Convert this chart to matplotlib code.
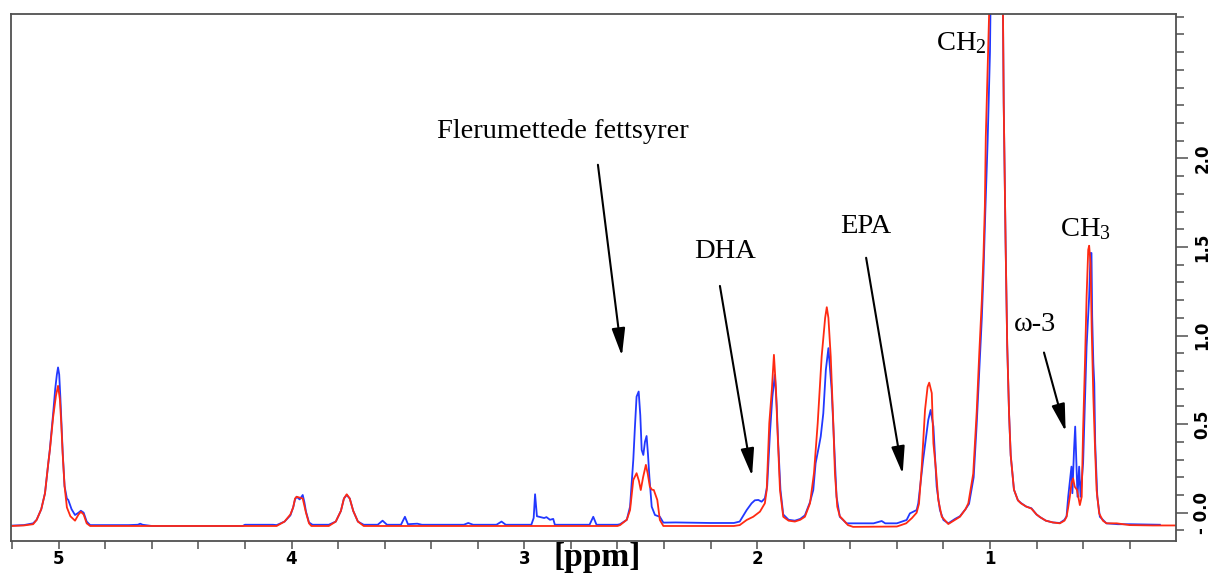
import matplotlib
matplotlib.use("Agg")
import matplotlib.pyplot as plt
from matplotlib.ticker import FixedLocator, MultipleLocator

plt.rcParams['mathtext.fontset'] = 'custom'
plt.rcParams['mathtext.rm'] = 'Liberation Serif'
plt.rcParams['mathtext.it'] = 'Liberation Serif:italic'

# spectrum: chemical shift (ppm) and intensity
blue_ppm = [5.205, 5.15, 5.11, 5.095, 5.075, 5.059, 5.045, 5.038, 5.024, 5.015,
            5.008, 5.003, 4.998, 4.993, 4.989, 4.983, 4.975, 4.965, 4.959, 4.945,
            4.930, 4.915, 4.905, 4.893, 4.880, 4.865, 4.70, 4.66, 4.65, 4.64,
            4.60, 4.21, 4.20, 4.08, 4.064, 4.03, 4.005, 3.993, 3.985, 3.978,
            3.965, 3.952, 3.945, 3.938, 3.925, 3.91, 3.84, 3.81, 3.788, 3.775,
            3.763, 3.750, 3.735, 3.715, 3.69, 3.63, 3.609, 3.59, 3.53, 3.513,
            3.50, 3.46, 3.44, 3.26, 3.241, 3.22, 3.12, 3.098, 3.08, 2.97,
            2.96, 2.954, 2.946, 2.93, 2.915, 2.905, 2.89, 2.876, 2.869, 2.72,
            2.704, 2.69, 2.60, 2.589, 2.56, 2.546, 2.532, 2.525, 2.518, 2.509,
            2.502, 2.496, 2.489, 2.482, 2.475, 2.469, 2.463, 2.453, 2.439, 2.418,
            2.403, 2.35, 2.20, 2.10, 2.075, 2.045, 2.024, 2.010, 1.995, 1.981,
            1.967, 1.957, 1.945, 1.935, 1.924, 1.916, 1.910, 1.900, 1.888, 1.865,
            1.838, 1.815, 1.795, 1.773, 1.759, 1.749, 1.735, 1.727, 1.716, 1.705,
            1.694, 1.680, 1.670, 1.659, 1.645, 1.616, 1.50, 1.465, 1.45, 1.40,
            1.358, 1.344, 1.315, 1.308, 1.287, 1.265, 1.255, 1.243, 1.229, 1.215,
            1.200, 1.179, 1.150, 1.129, 1.105, 1.090, 1.070, 1.057, 1.046, 1.035,
            1.028, 1.020, 1.010, 1.000, 0.992, 0.950, 0.944, 0.941, 0.933, 0.926,
            0.918, 0.911, 0.897, 0.880, 0.867, 0.845, 0.822, 0.800, 0.785, 0.760,
            0.730, 0.700, 0.680, 0.671, 0.664, 0.650, 0.646, 0.639, 0.634, 0.628,
            0.624, 0.617, 0.611, 0.600, 0.585, 0.574, 0.568, 0.564, 0.561, 0.556,
            0.552, 0.548, 0.539, 0.528, 0.50, 0.45, 0.40, 0.27]
blue_int = [-0.073, -0.07, -0.06, -0.04, 0.02, 0.11, 0.28, 0.36, 0.56, 0.70,
            0.78, 0.82, 0.78, 0.65, 0.52, 0.34, 0.15, 0.08, 0.072, 0.02,
            -0.013, 0.0, 0.011, 0.0, -0.05, -0.07, -0.07, -0.068, -0.062, -0.068,
            -0.075, -0.075, -0.068, -0.068, -0.07, -0.05, -0.015, 0.03, 0.075, 0.09,
            0.075, 0.10, 0.06, 0.006, -0.055, -0.068, -0.068, -0.05, 0.01, 0.08,
            0.10, 0.08, 0.01, -0.05, -0.068, -0.068, -0.045, -0.068, -0.068, -0.023,
            -0.065, -0.062, -0.068, -0.068, -0.058, -0.068, -0.068, -0.05, -0.068, -0.068,
            -0.03, 0.104, -0.02, -0.025, -0.03, -0.025, -0.04, -0.035, -0.068, -0.068,
            -0.023, -0.068, -0.068, -0.065, -0.04, 0.034, 0.30, 0.486, 0.655, 0.684,
            0.55, 0.354, 0.326, 0.40, 0.433, 0.33, 0.203, 0.034, -0.013, -0.023,
            -0.056, -0.055, -0.058, -0.058, -0.05, 0.015, 0.053, 0.07, 0.072, 0.062,
            0.081, 0.15, 0.45, 0.65, 0.778, 0.60, 0.40, 0.13, -0.01, -0.04,
            -0.045, -0.035, -0.015, 0.06, 0.128, 0.279, 0.373, 0.43, 0.56, 0.806,
            0.929, 0.693, 0.41, 0.09, -0.023, -0.06, -0.06, -0.047, -0.06, -0.06,
            -0.041, -0.004, 0.015, 0.053, 0.30, 0.524, 0.58, 0.486, 0.147, 0.015,
            -0.041, -0.06, -0.035, -0.02, 0.02, 0.05, 0.20, 0.50, 0.80, 1.10,
            1.35, 1.70, 2.10, 2.60, 3.5, 3.5, 2.8, 2.31, 1.53, 0.949,
            0.559, 0.325, 0.13, 0.07, 0.055, 0.035, 0.025, -0.01, -0.025, -0.045,
            -0.055, -0.058, -0.04, -0.02, 0.09, 0.26, 0.11, 0.354, 0.486, 0.241,
            0.09, 0.26, 0.09, 0.279, 0.938, 1.22, 1.466, 1.466, 1.107, 0.844,
            0.731, 0.392, 0.09, -0.023, -0.06, -0.065, -0.065, -0.068]

red_ppm = [5.205, 5.15, 5.11, 5.095, 5.075, 5.059, 5.045, 5.038, 5.024, 5.012,
           5.003, 4.995, 4.989, 4.983, 4.975, 4.965, 4.950, 4.930, 4.915, 4.905,
           4.893, 4.880, 4.865, 4.064, 4.03, 4.005, 3.993, 3.985, 3.978, 3.965,
           3.952, 3.945, 3.938, 3.925, 3.915, 3.84, 3.81, 3.788, 3.775, 3.763,
           3.750, 3.735, 3.715, 3.69, 2.60, 2.589, 2.56, 2.546, 2.532, 2.518,
           2.508, 2.500, 2.490, 2.478, 2.470, 2.461, 2.452, 2.444, 2.429, 2.418,
           2.403, 2.10, 2.075, 2.045, 2.017, 1.988, 1.967, 1.959, 1.948, 1.937,
           1.928, 1.919, 1.914, 1.902, 1.888, 1.865, 1.838, 1.815, 1.795, 1.773,
           1.756, 1.740, 1.723, 1.708, 1.701, 1.694, 1.684, 1.673, 1.666, 1.656,
           1.645, 1.630, 1.610, 1.588, 1.40, 1.36, 1.335, 1.315, 1.305, 1.293,
           1.279, 1.268, 1.261, 1.250, 1.243, 1.232, 1.222, 1.207, 1.179, 1.150,
           1.129, 1.105, 1.093, 1.072, 1.057, 1.046, 1.035, 1.028, 1.022, 1.018,
           1.010, 1.004, 0.997, 0.950, 0.944, 0.941, 0.933, 0.926, 0.918, 0.911,
           0.897, 0.880, 0.867, 0.845, 0.822, 0.800, 0.785, 0.760, 0.730, 0.700,
           0.680, 0.671, 0.664, 0.657, 0.650, 0.643, 0.636, 0.626, 0.614, 0.606,
           0.600, 0.592, 0.585, 0.578, 0.574, 0.568, 0.563, 0.556, 0.549, 0.542,
           0.531, 0.515, 0.499, 0.456, 0.40, 0.30, 0.202]
red_int = [-0.075, -0.072, -0.065, -0.041, 0.02, 0.11, 0.28, 0.354, 0.54, 0.66,
           0.716, 0.64, 0.50, 0.33, 0.15, 0.03, -0.02, -0.045, -0.01, 0.005,
           -0.01, -0.06, -0.075, -0.075, -0.05, -0.01, 0.03, 0.08, 0.09, 0.085,
           0.08, 0.04, 0.0, -0.06, -0.075, -0.075, -0.05, 0.01, 0.08, 0.104,
           0.08, 0.01, -0.05, -0.075, -0.075, -0.07, -0.04, 0.015, 0.185, 0.223,
           0.18, 0.128, 0.20, 0.27, 0.22, 0.147, 0.13, 0.128, 0.072, -0.041,
           -0.075, -0.075, -0.07, -0.041, -0.023, 0.006, 0.053, 0.128, 0.505, 0.693,
           0.891, 0.693, 0.505, 0.128, -0.023, -0.045, -0.05, -0.04, -0.023, 0.053,
           0.223, 0.505, 0.881, 1.10, 1.16, 1.10, 0.881, 0.505, 0.223, 0.034,
           -0.02, -0.041, -0.07, -0.08, -0.078, -0.06, -0.03, 0.0, 0.05, 0.26,
           0.58, 0.71, 0.734, 0.675, 0.392, 0.241, 0.072, -0.023, -0.064, -0.04,
           -0.023, 0.02, 0.053, 0.22, 0.57, 0.90, 1.20, 1.45, 1.73, 2.12,
           2.50, 2.80, 3.5, 3.5, 2.8, 2.31, 1.53, 0.949, 0.559, 0.325,
           0.13, 0.07, 0.053, 0.035, 0.023, -0.01, -0.025, -0.045, -0.055, -0.06,
           -0.045, -0.023, 0.03, 0.09, 0.166, 0.194, 0.147, 0.128, 0.043, 0.09,
           0.467, 0.844, 1.22, 1.484, 1.507, 1.409, 1.032, 0.655, 0.373, 0.128,
           -0.004, -0.045, -0.06, -0.06, -0.07, -0.072, -0.072]

# labels: text, text position, arrow tail, arrow head (ppm, intensity)
labels = ["Flerumettede fettsyrer", "DHA", "EPA", "ω-3",
          "CH$_2$", "CH$_3$"]
label_xy = [(2.834, 2.15), (2.139, 1.472), (1.533, 1.613), (0.807, 1.06),
            (1.125, 2.653), (0.590, 1.603)]
arrow_tail = [(2.684, 1.964), (2.160, 1.28), (1.532, 1.439), (0.768, 0.904)]
arrow_head = [(2.581, 0.885), (2.022, 0.207), (1.375, 0.219), (0.675, 0.458)]

y_major = [0.0, 0.5, 1.0, 1.5, 2.0]
y_major_labels = ["- 0.0", "0.5", "1.0", "1.5", "2.0"]

fig = plt.figure(figsize=(12.1, 5.76), dpi=100)
ax = fig.add_axes([0.0091, 0.0613, 0.9626, 0.9144])

ax.plot(blue_ppm, blue_int, color='#2238ff', lw=1.3)
ax.plot(red_ppm, red_int, color='#ff2a12', lw=1.3)

ax.set_xlim(5.205, 0.202)
ax.set_ylim(-0.158, 2.815)

for sp in ax.spines.values():
    sp.set_color('#505050')
    sp.set_linewidth(1.3)

ax.xaxis.set_major_locator(FixedLocator([1, 2, 3, 4, 5]))
ax.xaxis.set_minor_locator(MultipleLocator(0.2))
ax.tick_params(axis='x', which='both', direction='out', length=6, width=1.1,
               color='#505050', pad=1, labelsize=12)
for t in ax.get_xticklabels():
    t.set_fontweight('bold')

ax.yaxis.tick_right()
ax.yaxis.set_major_locator(FixedLocator(y_major))
ax.set_yticklabels(y_major_labels)
ax.yaxis.set_minor_locator(MultipleLocator(0.1))
ax.tick_params(axis='y', which='major', direction='out', length=8.6, width=1.1,
               color='#505050', pad=4, labelsize=12, labelrotation=90)
ax.tick_params(axis='y', which='minor', direction='out', length=5.5, width=1.1,
               color='#505050')
for t in ax.get_yticklabels():
    t.set_fontweight('bold')
    t.set_va('center')

ax.set_xlabel('[ppm]', fontfamily='Liberation Serif', fontweight='bold',
              fontsize=24)
ax.xaxis.set_label_coords(0.503, -0.002)

for i, txt in enumerate(labels):
    ax.text(label_xy[i][0], label_xy[i][1], txt, fontfamily='Liberation Serif',
            fontsize=20.5, ha='center', va='center')

for tail, head in zip(arrow_tail, arrow_head):
    ax.annotate('', xy=head, xytext=tail,
                arrowprops=dict(arrowstyle='-|>,head_length=1.4,head_width=0.34',
                                color='black', lw=1.5, mutation_scale=12,
                                shrinkA=0, shrinkB=0))

fig.savefig('out.png', dpi=100)
